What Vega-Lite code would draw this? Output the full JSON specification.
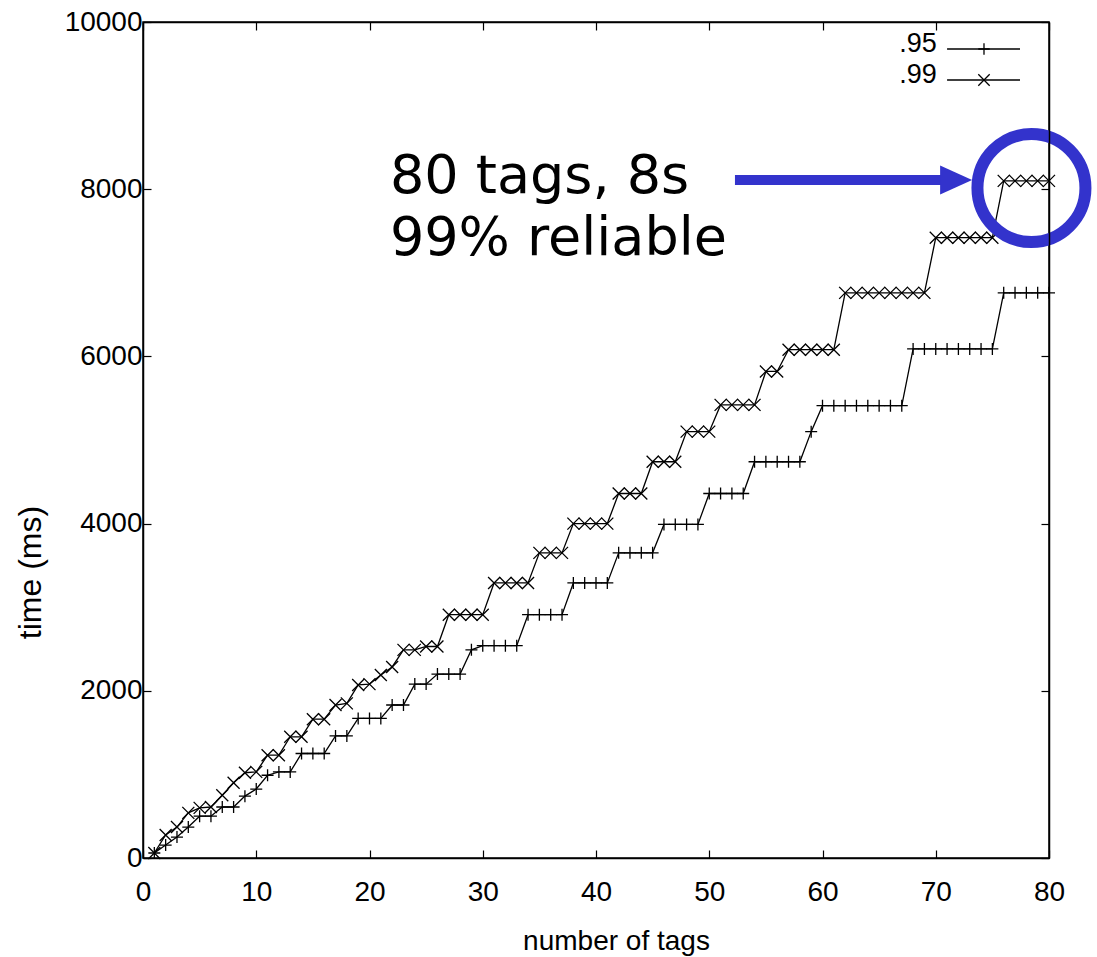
{
  "$schema": "https://vega.github.io/schema/vega-lite/v6.json",
  "width": 906,
  "height": 836,
  "autosize": {"type": "none"},
  "padding": {"left": 143, "top": 22, "right": 48, "bottom": 99},
  "background": "white",
  "config": {
    "view": {"stroke": "black", "strokeWidth": 1.5},
    "axis": {
      "grid": false,
      "domainColor": "black",
      "domainWidth": 1.5,
      "tickColor": "black",
      "tickWidth": 1.2,
      "labelColor": "black",
      "titleColor": "black",
      "labelFont": "Liberation Sans",
      "titleFont": "Liberation Sans",
      "titleFontWeight": "normal",
      "labelFontSize": 28,
      "labelFlush": false,
      "labelOverlap": false,
      "format": "d"
    }
  },
  "datasets": {
    "series": [
      {"s": ".95", "x": 1, "y": 60}, {"s": ".95", "x": 2, "y": 155}, {"s": ".95", "x": 3, "y": 250}, {"s": ".95", "x": 4, "y": 370},
      {"s": ".95", "x": 5, "y": 500}, {"s": ".95", "x": 6, "y": 500}, {"s": ".95", "x": 7, "y": 610}, {"s": ".95", "x": 8, "y": 610},
      {"s": ".95", "x": 9, "y": 740}, {"s": ".95", "x": 10, "y": 825}, {"s": ".95", "x": 11, "y": 990}, {"s": ".95", "x": 12, "y": 1030},
      {"s": ".95", "x": 13, "y": 1030}, {"s": ".95", "x": 14, "y": 1250}, {"s": ".95", "x": 15, "y": 1250}, {"s": ".95", "x": 16, "y": 1250},
      {"s": ".95", "x": 17, "y": 1460}, {"s": ".95", "x": 18, "y": 1460}, {"s": ".95", "x": 19, "y": 1670}, {"s": ".95", "x": 20, "y": 1670},
      {"s": ".95", "x": 21, "y": 1670}, {"s": ".95", "x": 22, "y": 1830}, {"s": ".95", "x": 23, "y": 1830}, {"s": ".95", "x": 24, "y": 2080},
      {"s": ".95", "x": 25, "y": 2080}, {"s": ".95", "x": 26, "y": 2200}, {"s": ".95", "x": 27, "y": 2200}, {"s": ".95", "x": 28, "y": 2200},
      {"s": ".95", "x": 29, "y": 2490}, {"s": ".95", "x": 30, "y": 2540}, {"s": ".95", "x": 31, "y": 2540}, {"s": ".95", "x": 32, "y": 2540},
      {"s": ".95", "x": 33, "y": 2540}, {"s": ".95", "x": 34, "y": 2910}, {"s": ".95", "x": 35, "y": 2910}, {"s": ".95", "x": 36, "y": 2910},
      {"s": ".95", "x": 37, "y": 2910}, {"s": ".95", "x": 38, "y": 3290}, {"s": ".95", "x": 39, "y": 3290}, {"s": ".95", "x": 40, "y": 3290},
      {"s": ".95", "x": 41, "y": 3290}, {"s": ".95", "x": 42, "y": 3650}, {"s": ".95", "x": 43, "y": 3650}, {"s": ".95", "x": 44, "y": 3650},
      {"s": ".95", "x": 45, "y": 3650}, {"s": ".95", "x": 46, "y": 3990}, {"s": ".95", "x": 47, "y": 3990}, {"s": ".95", "x": 48, "y": 3990},
      {"s": ".95", "x": 49, "y": 3990}, {"s": ".95", "x": 50, "y": 4360}, {"s": ".95", "x": 51, "y": 4360}, {"s": ".95", "x": 52, "y": 4360},
      {"s": ".95", "x": 53, "y": 4360}, {"s": ".95", "x": 54, "y": 4740}, {"s": ".95", "x": 55, "y": 4740}, {"s": ".95", "x": 56, "y": 4740},
      {"s": ".95", "x": 57, "y": 4740}, {"s": ".95", "x": 58, "y": 4740}, {"s": ".95", "x": 59, "y": 5100}, {"s": ".95", "x": 60, "y": 5410},
      {"s": ".95", "x": 61, "y": 5410}, {"s": ".95", "x": 62, "y": 5410}, {"s": ".95", "x": 63, "y": 5410}, {"s": ".95", "x": 64, "y": 5410},
      {"s": ".95", "x": 65, "y": 5410}, {"s": ".95", "x": 66, "y": 5410}, {"s": ".95", "x": 67, "y": 5410}, {"s": ".95", "x": 68, "y": 6090},
      {"s": ".95", "x": 69, "y": 6090}, {"s": ".95", "x": 70, "y": 6090}, {"s": ".95", "x": 71, "y": 6090}, {"s": ".95", "x": 72, "y": 6090},
      {"s": ".95", "x": 73, "y": 6090}, {"s": ".95", "x": 74, "y": 6090}, {"s": ".95", "x": 75, "y": 6090}, {"s": ".95", "x": 76, "y": 6760},
      {"s": ".95", "x": 77, "y": 6760}, {"s": ".95", "x": 78, "y": 6760}, {"s": ".95", "x": 79, "y": 6760}, {"s": ".95", "x": 80, "y": 6760},
      {"s": ".99", "x": 1, "y": 60}, {"s": ".99", "x": 2, "y": 275}, {"s": ".99", "x": 3, "y": 370}, {"s": ".99", "x": 4, "y": 540},
      {"s": ".99", "x": 5, "y": 600}, {"s": ".99", "x": 6, "y": 610}, {"s": ".99", "x": 7, "y": 750}, {"s": ".99", "x": 8, "y": 900},
      {"s": ".99", "x": 9, "y": 1020}, {"s": ".99", "x": 10, "y": 1030}, {"s": ".99", "x": 11, "y": 1230}, {"s": ".99", "x": 12, "y": 1230},
      {"s": ".99", "x": 13, "y": 1450}, {"s": ".99", "x": 14, "y": 1450}, {"s": ".99", "x": 15, "y": 1660}, {"s": ".99", "x": 16, "y": 1660},
      {"s": ".99", "x": 17, "y": 1830}, {"s": ".99", "x": 18, "y": 1850}, {"s": ".99", "x": 19, "y": 2070}, {"s": ".99", "x": 20, "y": 2080},
      {"s": ".99", "x": 21, "y": 2190}, {"s": ".99", "x": 22, "y": 2285}, {"s": ".99", "x": 23, "y": 2490}, {"s": ".99", "x": 24, "y": 2490},
      {"s": ".99", "x": 25, "y": 2530}, {"s": ".99", "x": 26, "y": 2530}, {"s": ".99", "x": 27, "y": 2910}, {"s": ".99", "x": 28, "y": 2910},
      {"s": ".99", "x": 29, "y": 2910}, {"s": ".99", "x": 30, "y": 2910}, {"s": ".99", "x": 31, "y": 3290}, {"s": ".99", "x": 32, "y": 3290},
      {"s": ".99", "x": 33, "y": 3290}, {"s": ".99", "x": 34, "y": 3290}, {"s": ".99", "x": 35, "y": 3650}, {"s": ".99", "x": 36, "y": 3650},
      {"s": ".99", "x": 37, "y": 3650}, {"s": ".99", "x": 38, "y": 4000}, {"s": ".99", "x": 39, "y": 4000}, {"s": ".99", "x": 40, "y": 4000},
      {"s": ".99", "x": 41, "y": 4000}, {"s": ".99", "x": 42, "y": 4360}, {"s": ".99", "x": 43, "y": 4360}, {"s": ".99", "x": 44, "y": 4360},
      {"s": ".99", "x": 45, "y": 4740}, {"s": ".99", "x": 46, "y": 4740}, {"s": ".99", "x": 47, "y": 4740}, {"s": ".99", "x": 48, "y": 5100},
      {"s": ".99", "x": 49, "y": 5100}, {"s": ".99", "x": 50, "y": 5100}, {"s": ".99", "x": 51, "y": 5420}, {"s": ".99", "x": 52, "y": 5420},
      {"s": ".99", "x": 53, "y": 5420}, {"s": ".99", "x": 54, "y": 5420}, {"s": ".99", "x": 55, "y": 5820}, {"s": ".99", "x": 56, "y": 5820},
      {"s": ".99", "x": 57, "y": 6080}, {"s": ".99", "x": 58, "y": 6080}, {"s": ".99", "x": 59, "y": 6080}, {"s": ".99", "x": 60, "y": 6080},
      {"s": ".99", "x": 61, "y": 6080}, {"s": ".99", "x": 62, "y": 6760}, {"s": ".99", "x": 63, "y": 6760}, {"s": ".99", "x": 64, "y": 6760},
      {"s": ".99", "x": 65, "y": 6760}, {"s": ".99", "x": 66, "y": 6760}, {"s": ".99", "x": 67, "y": 6760}, {"s": ".99", "x": 68, "y": 6760},
      {"s": ".99", "x": 69, "y": 6760}, {"s": ".99", "x": 70, "y": 7420}, {"s": ".99", "x": 71, "y": 7420}, {"s": ".99", "x": 72, "y": 7420},
      {"s": ".99", "x": 73, "y": 7420}, {"s": ".99", "x": 74, "y": 7420}, {"s": ".99", "x": 75, "y": 7420}, {"s": ".99", "x": 76, "y": 8100},
      {"s": ".99", "x": 77, "y": 8100}, {"s": ".99", "x": 78, "y": 8100}, {"s": ".99", "x": 79, "y": 8100}, {"s": ".99", "x": 80, "y": 8100}
    ],
    "legend": [
      {"s": ".95", "tx": 70.1, "ty": 9641, "lx1": 71.0, "lx2": 77.44, "lxm": 74.26, "ly": 9677},
      {"s": ".99", "tx": 70.1, "ty": 9270, "lx1": 71.0, "lx2": 77.44, "lxm": 74.26, "ly": 9306}
    ],
    "note": [
      {"t": "80 tags, 8s", "x": 21.8, "y": 7955},
      {"t": "99% reliable", "x": 21.8, "y": 7213}
    ],
    "arrow": [{"x": 52.27, "x2": 71.3, "y": 8110}],
    "head": [{"x": 71.8, "y": 8110}],
    "ring": [{"x": 78.45, "y": 8014}]
  },
  "resolve": {"axis": {"x": "independent", "y": "independent"}},
  "layer": [
    {
      "data": {"name": "series"},
      "mark": {"type": "line", "color": "black", "strokeWidth": 1.3},
      "encoding": {
        "x": {
          "field": "x", "type": "quantitative",
          "scale": {"domain": [0, 80], "nice": false},
          "axis": {
            "orient": "bottom", "values": [0, 10, 20, 30, 40, 50, 60, 70, 80],
            "title": "number of tags", "tickSize": -8, "labelPadding": 28,
            "titleX": 473, "titleY": 91, "titleBaseline": "alphabetic", "titleAlign": "center",
            "titleFontSize": 28
          }
        },
        "y": {
          "field": "y", "type": "quantitative",
          "scale": {"domain": [0, 10000], "nice": false},
          "axis": {
            "orient": "left", "values": [0, 2000, 4000, 6000, 8000, 10000],
            "title": "time (ms)", "tickSize": -8, "labelPadding": 9,
            "titleX": -113, "titleY": 550, "titleAngle": -90, "titleBaseline": "middle", "titleAlign": "center",
            "titleFontSize": 32
          }
        },
        "detail": {"field": "s"}
      }
    },
    {
      "data": {"name": "series"},
      "mark": {"type": "point", "filled": false, "stroke": "black", "strokeWidth": 1.3, "size": 144, "opacity": 1},
      "encoding": {
        "x": {
          "field": "x", "type": "quantitative",
          "scale": {"domain": [0, 80], "nice": false},
          "axis": {"orient": "top", "values": [0, 10, 20, 30, 40, 50, 60, 70, 80], "labels": false, "title": null, "tickSize": -8, "zindex": 1}
        },
        "y": {
          "field": "y", "type": "quantitative",
          "scale": {"domain": [0, 10000], "nice": false},
          "axis": {"orient": "right", "values": [0, 2000, 4000, 6000, 8000, 10000], "labels": false, "title": null, "tickSize": -8, "zindex": 1}
        },
        "shape": {
          "field": "s",
          "scale": {"domain": [".95", ".99"], "range": ["M-1,0L1,0M0,-1L0,1", "M-1,-1L1,1M1,-1L-1,1"]},
          "legend": null
        }
      }
    },
    {
      "data": {"name": "legend"},
      "mark": {"type": "rule", "color": "black", "strokeWidth": 1.3},
      "encoding": {
        "x": {"field": "lx1", "type": "quantitative", "axis": null},
        "x2": {"field": "lx2"},
        "y": {"field": "ly", "type": "quantitative", "axis": null}
      }
    },
    {
      "data": {"name": "legend"},
      "mark": {"type": "point", "filled": false, "stroke": "black", "strokeWidth": 1.3, "size": 130, "opacity": 1},
      "encoding": {
        "x": {"field": "lxm", "type": "quantitative", "axis": null},
        "y": {"field": "ly", "type": "quantitative", "axis": null},
        "shape": {"field": "s", "legend": null}
      }
    },
    {
      "data": {"name": "legend"},
      "mark": {"type": "text", "align": "right", "baseline": "alphabetic", "font": "Liberation Sans", "fontSize": 27, "color": "black"},
      "encoding": {
        "x": {"field": "tx", "type": "quantitative", "axis": null},
        "y": {"field": "ty", "type": "quantitative", "axis": null},
        "text": {"field": "s"}
      }
    },
    {
      "data": {"name": "note"},
      "mark": {"type": "text", "align": "left", "baseline": "alphabetic", "font": "DejaVu Sans", "fontSize": 54, "color": "black"},
      "encoding": {
        "x": {"field": "x", "type": "quantitative", "axis": null},
        "y": {"field": "y", "type": "quantitative", "axis": null},
        "text": {"field": "t"}
      }
    },
    {
      "data": {"name": "arrow"},
      "mark": {"type": "rule", "color": "#3333cc", "strokeWidth": 10},
      "encoding": {
        "x": {"field": "x", "type": "quantitative", "axis": null},
        "x2": {"field": "x2"},
        "y": {"field": "y", "type": "quantitative", "axis": null}
      }
    },
    {
      "data": {"name": "head"},
      "mark": {"type": "point", "shape": "M-1,-0.9L1,0L-1,0.9Z", "filled": true, "color": "#3333cc", "size": 1024, "opacity": 1, "strokeWidth": 0},
      "encoding": {
        "x": {"field": "x", "type": "quantitative", "axis": null},
        "y": {"field": "y", "type": "quantitative", "axis": null}
      }
    },
    {
      "data": {"name": "ring"},
      "mark": {"type": "point", "shape": "circle", "filled": false, "stroke": "#3333cc", "strokeWidth": 12, "size": 11664, "opacity": 1},
      "encoding": {
        "x": {"field": "x", "type": "quantitative", "axis": null},
        "y": {"field": "y", "type": "quantitative", "axis": null}
      }
    }
  ]
}
